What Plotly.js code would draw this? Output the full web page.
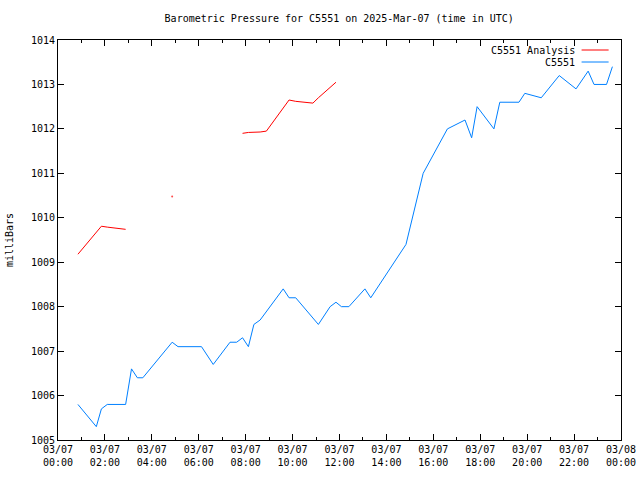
<!DOCTYPE html>
<html>
<head>
<meta charset="utf-8">
<script src="https://cdn.plot.ly/plotly-3.0.1.min.js"></script>
<style>html,body{margin:0;padding:0;background:#fff}#chart{width:640px;height:480px}</style>
</head>
<body>
<div id="chart"></div>
<script>
// Observed station pressure (C5551)
var obsTimes = ["00:51","01:38","01:51","02:06","02:53","03:08","03:23","03:37","04:52","05:07",
  "06:07","06:37","07:20","07:37","07:52","08:07","08:21","08:37","09:36","09:51",
  "10:08","11:06","11:36","11:51","12:05","12:24","13:05","13:20","14:50","15:34",
  "16:36","17:21","17:38","17:52","18:35","18:50","19:39","19:54","20:36","21:22",
  "22:05","22:36","22:51","23:23","23:38"];
var obsValues = [1005.8,1005.3,1005.7,1005.8,1005.8,1006.6,1006.4,1006.4,1007.2,1007.1,
  1007.1,1006.7,1007.2,1007.2,1007.3,1007.1,1007.6,1007.7,1008.4,1008.2,
  1008.2,1007.6,1008.0,1008.1,1008.0,1008.0,1008.4,1008.2,1009.4,1011.0,
  1012.0,1012.2,1011.8,1012.5,1012.0,1012.6,1012.6,1012.8,1012.7,1013.2,
  1012.9,1013.3,1013.0,1013.0,1013.4];

// Analysis pressure (null = gap)
var anaTimes = ["00:51","01:51","02:06","02:53","03:08","04:52","05:07","07:37","07:52","08:07",
  "08:37","08:53","09:51","10:08","10:52","11:06","11:51"];
var anaValues = [1009.18,1009.81,1009.79,1009.74,null,1010.48,null,null,1011.9,1011.92,
  1011.93,1011.95,1012.65,1012.62,1012.58,1012.7,1013.05];

var day = "2025-03-07";
var tickVals = ["2025-03-07 00:00","2025-03-07 02:00","2025-03-07 04:00","2025-03-07 06:00",
  "2025-03-07 08:00","2025-03-07 10:00","2025-03-07 12:00","2025-03-07 14:00",
  "2025-03-07 16:00","2025-03-07 18:00","2025-03-07 20:00","2025-03-07 22:00","2025-03-08 00:00"];
var tickText = ["03/07<br>00:00","03/07<br>02:00","03/07<br>04:00","03/07<br>06:00",
  "03/07<br>08:00","03/07<br>10:00","03/07<br>12:00","03/07<br>14:00",
  "03/07<br>16:00","03/07<br>18:00","03/07<br>20:00","03/07<br>22:00","03/08<br>00:00"];
var yTicks = [1005,1006,1007,1008,1009,1010,1011,1012,1013,1014];

function toDate(t){ return day + " " + t; }

// only isolated analysis values (no neighbours) get a dot so they stay visible
var anaMarkerSize = anaValues.map(function(v, i){
  if (v === null) return 0;
  var prev = i > 0 ? anaValues[i-1] : null;
  var next = i < anaValues.length - 1 ? anaValues[i+1] : null;
  return (prev === null && next === null) ? 2 : 0;
});

var font = {family: "DejaVu Sans Mono, Liberation Mono, monospace", size: 10, color: "#000"};

var traces = [
  {x: anaTimes.map(toDate), y: anaValues, mode: "lines+markers", name: "C5551 Analysis",
   line: {color: "#ff0000", width: 1}, marker: {color: "#ff0000", size: anaMarkerSize, line: {width: 0}}, connectgaps: false},
  {x: obsTimes.map(toDate), y: obsValues, mode: "lines", name: "C5551",
   line: {color: "#0080ff", width: 1}}
];

var layout = {
  width: 640, height: 480,
  margin: {l: 58, r: 19, t: 40, b: 40},
  paper_bgcolor: "#fff", plot_bgcolor: "#fff",
  font: font,
  showlegend: false,
  title: {text: "Barometric Pressure for C5551 on 2025-Mar-07 (time in UTC)", font: font,
          x: 0.53, xanchor: "center", y: 0.962, yanchor: "middle"},
  xaxis: {
    type: "date",
    range: ["2025-03-07 00:00", "2025-03-08 00:00"],
    tickmode: "array", tickvals: tickVals, ticktext: tickText,
    ticks: "inside", ticklen: 6, tickcolor: "#000", tickwidth: 1,
    minor: {tick0: "2025-03-07 00:00", dtick: 3600000, ticks: "inside", ticklen: 3, tickcolor: "#000", showgrid: false},
    showline: true, linecolor: "#000", linewidth: 1, mirror: "allticks",
    showgrid: false, zeroline: false, tickfont: font
  },
  yaxis: {
    range: [1005, 1014],
    tickmode: "array", tickvals: yTicks, ticktext: yTicks.map(String),
    ticks: "inside", ticklen: 6, tickcolor: "#000", tickwidth: 1,
    showline: true, linecolor: "#000", linewidth: 1, mirror: "allticks",
    showgrid: false, zeroline: false, tickfont: font,
    title: {text: "milliBars", font: font, standoff: 15}
  },
  annotations: [
    {xref: "paper", yref: "paper", x: 0.921, y: 0.975, xanchor: "right", yanchor: "middle",
     text: traces[0].name, showarrow: false, font: font},
    {xref: "paper", yref: "paper", x: 0.921, y: 0.945, xanchor: "right", yanchor: "middle",
     text: traces[1].name, showarrow: false, font: font}
  ],
  shapes: [
    {type: "line", xref: "paper", yref: "paper", x0: 0.93, x1: 0.978, y0: 0.975, y1: 0.975,
     line: {color: "#ff0000", width: 1}},
    {type: "line", xref: "paper", yref: "paper", x0: 0.93, x1: 0.978, y0: 0.945, y1: 0.945,
     line: {color: "#0080ff", width: 1}}
  ]
};

Plotly.newPlot("chart", traces, layout, {displayModeBar: false, staticPlot: true});
</script>
</body>
</html>
